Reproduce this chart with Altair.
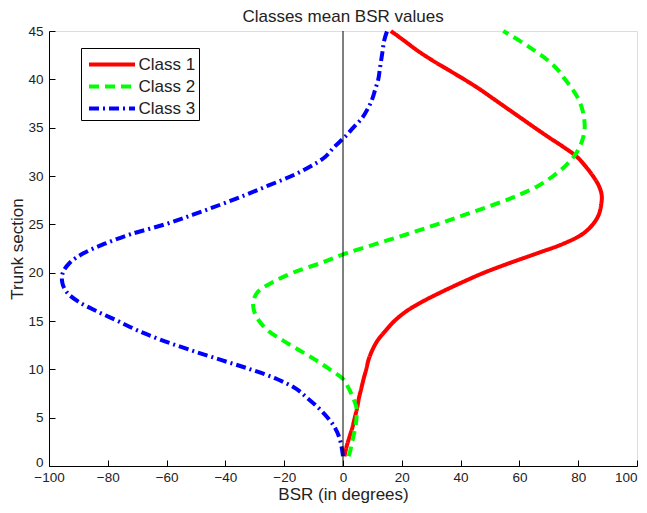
import altair as alt
import pandas as pd

sections = list(range(1, 46))
class1 = [0.5, 1.2, 2.2, 3.2, 4.0, 4.8, 5.4, 6.2, 7.0, 7.9, 8.7, 10.0, 11.8, 14.5, 17.5,
          21.5, 27, 33.5, 40.5, 48, 56.7, 66, 75, 81.5, 85, 87, 87.8, 88, 87, 85,
          82.5, 79.5, 75, 70, 65.2, 60.5, 55.8, 51.1, 46.4, 41.2, 35.7, 30.2, 25.2, 20.8, 16.3]
class2 = [2, 2.8, 3.5, 4.2, 4.6, 4.6, 3.5, 2, 0, -4.5, -9.5, -15, -20.5, -25.5, -28.5,
          -30.2, -30.5, -29, -24, -17, -7.5, 1, 11.5, 22, 32, 41.5, 51, 59.5, 66.5, 71.5,
          75.5, 78.5, 80.5, 81.7, 82.2, 82, 81.3, 80, 78, 75.5, 73, 69.5, 65, 60, 54.5]
class3 = [0, -0.5, -1.3, -2.8, -5.2, -8.3, -12, -16, -22.5, -31.5, -41.8, -52, -61.5, -69.7, -76.6,
          -83.7, -90, -94, -95.5, -95.3, -93, -88.3, -81, -72, -60.5, -51, -42, -33.5, -25.5, -17.5,
          -11, -6, -3, 0.5, 3.5, 6.5, 8.5, 10, 11, 12, 12.5, 13, 13.5, 14, 15]
class_names = ["Class 1", "Class 2", "Class 3"]
class_colors = ["#ff0000", "#00ff00", "#0000ff"]
class_dashes = [[1, 0], [10, 6], [10, 4, 2, 4]]
x_ticks = [-100, -80, -60, -40, -20, 0, 20, 40, 60, 80, 100]
y_ticks = [0, 5, 10, 15, 20, 25, 30, 35, 40, 45]

rows = []
for name, vals in zip(class_names, [class1, class2, class3]):
    for s, v in zip(sections, vals):
        rows.append({"cls": name, "section": s, "bsr": v})
df = pd.DataFrame(rows)

font = "Liberation Sans"
txt = "#222222"
W, H = 588, 435
x_scale = alt.Scale(domain=[-100, 100], nice=False, zero=False)
y_scale = alt.Scale(domain=[0, 45], nice=False, zero=False)

legend = alt.Legend(title=None, orient="none", legendX=32, legendY=17,
                    symbolType="M-2,0H2", symbolSize=529, symbolStrokeWidth=4,
                    symbolOffset=14.5, labelOffset=13,
                    labelFontSize=17, labelFont=font, labelColor=txt,
                    strokeColor="black", fillColor="white", padding=3,
                    rowPadding=-2)

lines = alt.Chart(df).mark_line(strokeWidth=4, interpolate="catmull-rom").encode(
    x=alt.X("bsr:Q", scale=x_scale,
            axis=alt.Axis(values=x_ticks, title="BSR (in degrees)", grid=False,
                          tickSize=0, labelPadding=4, titlePadding=3, labelFlush=False,
                          labelAlign={"condition": {"test": "datum.value == 100", "value": "right"},
                                      "value": "center"},
                          domainColor="black", labelColor=txt, titleColor=txt,
                          labelFontSize=13.5, titleFontSize=17, titleFontWeight="normal",
                          labelFont=font, titleFont=font)),
    y=alt.Y("section:Q", scale=y_scale,
            axis=alt.Axis(values=y_ticks, title="Trunk section", grid=False,
                          tickSize=0, labelPadding=6, titlePadding=1,
                          labelBaseline={"condition": {"test": "datum.value == 0", "value": "alphabetic"},
                                         "value": "middle"},
                          domainColor="black", labelColor=txt, titleColor=txt,
                          labelFontSize=13.5, titleFontSize=17, titleFontWeight="normal",
                          labelFont=font, titleFont=font)),
    order="section:Q",
    color=alt.Color("cls:N", scale=alt.Scale(domain=class_names, range=class_colors), legend=legend),
    strokeDash=alt.StrokeDash("cls:N", scale=alt.Scale(domain=class_names, range=class_dashes),
                              legend=legend),
)

zero = alt.Chart(pd.DataFrame({"x": [0]})).mark_rule(color="black", strokeWidth=1).encode(
    x=alt.X("x:Q", scale=x_scale, axis=None)
)

ticks = alt.Chart(df).mark_point(opacity=0).encode(
    x=alt.X("bsr:Q", scale=x_scale,
            axis=alt.Axis(values=x_ticks, title=None, labels=False, domain=False, grid=False,
                          tickSize={"expr": "-6"}, tickColor="black", orient="bottom")),
    y=alt.Y("section:Q", scale=y_scale,
            axis=alt.Axis(values=y_ticks, title=None, labels=False, domain=False, grid=False,
                          tickSize={"expr": "-6"}, tickColor="black", orient="left")),
)

chart = alt.layer(lines, zero, ticks).resolve_axis(x="independent", y="independent").properties(
    width=W, height=H,
    title=alt.TitleParams("Classes mean BSR values", fontSize=17, font=font, fontWeight="normal",
                          color=txt, offset=-3),
    autosize=alt.AutoSizeParams(type="none"),
    padding={"left": 41, "top": 23, "right": 2, "bottom": 42},
).configure_view(stroke=None).configure(background="white")

chart.save("out.html", embed_options={"renderer": "svg", "actions": False})
